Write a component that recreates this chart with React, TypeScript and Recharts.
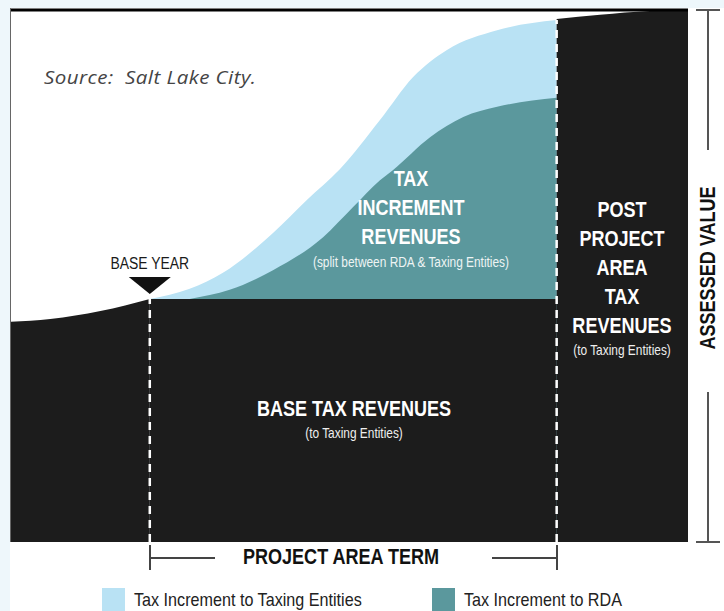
import React from 'react'
import { ComposedChart, Area, XAxis, YAxis, ReferenceLine, ReferenceDot } from 'recharts'

// x = share of the timeline (0-100), y = assessed value (0-100)
const BASE_YEAR = 20.5
const PROJECT_END = 80.6
const BASE_VALUE = 45.7

const preBaseX = [0, 5.8, 13.2, 20.5]
const preBaseValue = [41.4, 41.9, 43.4, 45.7]

const totalX = [20.5, 26.4, 31.3, 38.7, 43.7, 48.6, 54.5, 59.4, 64.4, 71.8, 80.6]
const totalValue = [45.7, 47.6, 50.6, 58.1, 64.3, 70.1, 79.3, 87.4, 92.5, 96.2, 98.1]

const rdaX = [26.4, 32.3, 38.7, 46.1, 50.5, 54.5, 56.4, 61.9, 66.8, 71.8, 80.6]
const rdaValue = [45.7, 47.4, 51.1, 57.3, 62.9, 68.0, 69.9, 76.1, 79.9, 81.8, 83.5]

const postX = [80.6, 87.0, 94.4, 100]
const postValue = [98.3, 99.1, 99.8, 100]

const LIGHT_BLUE = '#b9e2f4'
const TEAL = '#5b989d'
const BLACK = '#1c1c1c'
const SANS = "'Liberation Sans', Arial, sans-serif"
const SQUEEZE = 0.82 // the original uses a condensed grotesque

const toRows = (xs: number[], vs: number[]) => xs.map((x, i) => ({ x, v: vs[i] }))

const preBaseData = toRows(preBaseX, preBaseValue)
const baseData = toRows([BASE_YEAR, PROJECT_END], [BASE_VALUE, BASE_VALUE])
const totalData = toRows(totalX, totalValue)
const rdaData = toRows(rdaX, rdaValue)
const postData = toRows(postX, postValue)

function Txt({ x, y, size, bold, color = '#fff', family = SANS, italic, children, left, squeeze = SQUEEZE, spacing = 0 }: any) {
  return (
    <div
      style={{
        position: 'absolute',
        left: x,
        top: y,
        transform: (left ? 'translate(0,-50%)' : 'translate(-50%,-50%)') + ` scaleX(${squeeze})`,
        transformOrigin: left ? 'left center' : 'center center',
        fontSize: size,
        fontWeight: bold ? 700 : 400,
        fontStyle: italic ? 'italic' : 'normal',
        fontFamily: family,
        letterSpacing: spacing,
        color,
        whiteSpace: 'nowrap',
        lineHeight: 1,
      }}
    >
      {children}
    </div>
  )
}

const BaseYearMarker = (props: any) => {
  const { cx, cy } = props
  return (
    <g>
      <path d={`M${cx - 21},${cy - 22} L${cx + 21},${cy - 22} L${cx},${cy - 5} Z`} fill="#111" />
      <text
        transform={`translate(${cx},${cy - 30}) scale(${SQUEEZE},1)`}
        textAnchor="middle"
        fontFamily={SANS}
        fontSize={17}
        fill="#1a1a1a"
      >
        BASE YEAR
      </text>
    </g>
  )
}

export default function App() {
  return (
    <div style={{ position: 'absolute', left: 0, top: 0, width: 724, height: 611, background: '#fff', overflow: 'hidden' }}>
      <div style={{ position: 'absolute', left: 0, top: 0, width: 10, height: 611, background: '#eef7fb' }} />
      <div style={{ position: 'absolute', left: 0, top: 0, width: 724, height: 8, background: '#eef7fb' }} />
      <div style={{ position: 'absolute', left: 10, top: 8, width: 1, height: 534, background: '#666' }} />

      <ComposedChart width={724} height={611} data={totalData} margin={{ top: 10, right: 36, bottom: 69, left: 11 }} style={{ position: 'absolute', left: 0, top: 0 }}>
        <XAxis dataKey="x" type="number" domain={[0, 100]} hide allowDataOverflow />
        <YAxis type="number" domain={[0, 100]} hide allowDataOverflow />
        <Area data={totalData} dataKey="v" type="monotone" fill={LIGHT_BLUE} fillOpacity={1} stroke="none" isAnimationActive={false} />
        <Area data={rdaData} dataKey="v" type="monotone" fill={TEAL} fillOpacity={1} stroke="none" isAnimationActive={false} />
        <Area data={preBaseData} dataKey="v" type="monotone" fill={BLACK} fillOpacity={1} stroke="none" isAnimationActive={false} />
        <Area data={baseData} dataKey="v" type="linear" fill={BLACK} fillOpacity={1} stroke="none" isAnimationActive={false} />
        <Area data={postData} dataKey="v" type="monotone" fill={BLACK} fillOpacity={1} stroke="none" isAnimationActive={false} />
        <ReferenceLine y={100} stroke="#000" strokeWidth={3} />
        <ReferenceLine
          segment={[{ x: BASE_YEAR, y: 0 }, { x: BASE_YEAR, y: BASE_VALUE }]}
          stroke="#fff"
          strokeWidth={2.5}
          strokeDasharray="8 6"
        />
        <ReferenceLine
          segment={[{ x: PROJECT_END, y: 0 }, { x: PROJECT_END, y: totalValue[totalValue.length - 1] }]}
          stroke="#fff"
          strokeWidth={2.5}
          strokeDasharray="8 6"
        />
        <ReferenceDot x={BASE_YEAR} y={BASE_VALUE} shape={BaseYearMarker} />
      </ComposedChart>

      <Txt x={44} y={77} size={19} italic family="'Open Sans', Lato, sans-serif" color="#444" left squeeze={1.08} spacing={0.4}>
        Source:&nbsp; Salt Lake City.
      </Txt>

      <Txt x={411} y={179} size={22} bold>TAX</Txt>
      <Txt x={411} y={208} size={22} bold>INCREMENT</Txt>
      <Txt x={411} y={237} size={22} bold>REVENUES</Txt>
      <Txt x={411} y={262} size={14.5} color="#eef4f4">(split between RDA &amp; Taxing Entities)</Txt>

      <Txt x={622} y={210} size={22} bold>POST</Txt>
      <Txt x={622} y={239} size={22} bold>PROJECT</Txt>
      <Txt x={622} y={268} size={22} bold>AREA</Txt>
      <Txt x={622} y={297} size={22} bold>TAX</Txt>
      <Txt x={622} y={326} size={22} bold>REVENUES</Txt>
      <Txt x={622} y={350} size={14.5} color="#eee">(to Taxing Entities)</Txt>

      <Txt x={354} y={409} size={22} bold>BASE TAX REVENUES</Txt>
      <Txt x={354} y={433} size={14.5} color="#eee">(to Taxing Entities)</Txt>

      {/* assessed value bracket */}
      <div style={{ position: 'absolute', left: 707, top: 10, width: 1.5, height: 140, background: '#555' }} />
      <div style={{ position: 'absolute', left: 707, top: 392, width: 1.5, height: 150, background: '#555' }} />
      <div style={{ position: 'absolute', left: 696, top: 9, width: 24, height: 1.5, background: '#555' }} />
      <div style={{ position: 'absolute', left: 696, top: 541, width: 24, height: 1.5, background: '#555' }} />
      <div
        style={{
          position: 'absolute',
          left: 708,
          top: 268,
          transform: `translate(-50%,-50%) rotate(-90deg) scaleX(${SQUEEZE})`,
          fontFamily: SANS,
          fontWeight: 700,
          fontSize: 22,
          color: '#111',
          whiteSpace: 'nowrap',
          lineHeight: 1,
        }}
      >
        ASSESSED VALUE
      </div>

      {/* project area term bracket */}
      <div style={{ position: 'absolute', left: 149, top: 545, width: 1.5, height: 25, background: '#444' }} />
      <div style={{ position: 'absolute', left: 149, top: 557, width: 66, height: 1.5, background: '#444' }} />
      <div style={{ position: 'absolute', left: 492, top: 557, width: 66, height: 1.5, background: '#444' }} />
      <div style={{ position: 'absolute', left: 556, top: 545, width: 1.5, height: 25, background: '#444' }} />
      <Txt x={341} y={557} size={22} bold color="#111">PROJECT AREA TERM</Txt>

      {/* legend */}
      <div style={{ position: 'absolute', left: 102, top: 588, width: 23, height: 23, background: LIGHT_BLUE }} />
      <Txt x={134} y={599} size={19} color="#222" left squeeze={0.85}>Tax Increment to Taxing Entities</Txt>
      <div style={{ position: 'absolute', left: 432, top: 588, width: 23, height: 23, background: TEAL }} />
      <Txt x={464} y={599} size={19} color="#222" left squeeze={0.85}>Tax Increment to RDA</Txt>
    </div>
  )
}
